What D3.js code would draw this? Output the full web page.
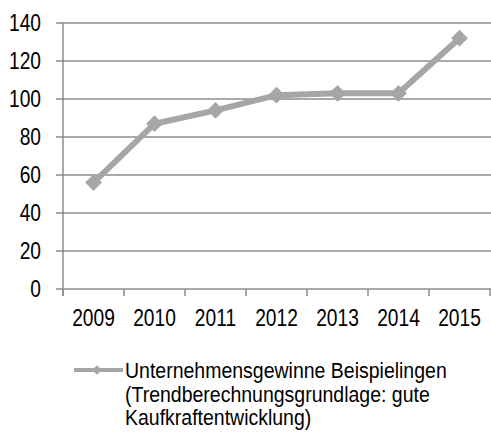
<!DOCTYPE html>
<html><head><meta charset="utf-8">
<script src="https://cdn.jsdelivr.net/npm/d3@7"></script>
<style>body{margin:0;background:#fff}svg{display:block}text{font-family:"Liberation Sans",Arial,sans-serif;fill:#000}</style>
</head><body>
<script>
const years = ["2009","2010","2011","2012","2013","2014","2015"];
const values = [56, 87, 94, 102, 103, 103, 132];
const yTicks = [0,20,40,60,80,100,120,140];
const legendLines = ["Unternehmensgewinne Beispielingen","(Trendberechnungsgrundlage: gute","Kaufkraftentwicklung)"];

const W=491,H=437;
const svg=d3.select("body").append("svg").attr("width",W).attr("height",H);
const x=d3.scaleBand().domain(years).range([63,490]);
const y=d3.scaleLinear().domain([0,140]).range([289,23]);
const grid="#8c8c8c", series="#a6a6a6";
const fs=19.2, sy=1.2;

// gridlines
svg.append("g").selectAll("line").data(yTicks).join("line")
  .attr("x1",56).attr("x2",W).attr("y1",d=>y(d)).attr("y2",d=>y(d))
  .attr("stroke",grid).attr("stroke-width",1.5);
// y axis line
svg.append("line").attr("x1",63).attr("x2",63).attr("y1",y(140)).attr("y2",296)
  .attr("stroke",grid).attr("stroke-width",1.5);
// x ticks at band edges
const edges=years.map(d=>x(d)).concat([x.range()[1]]);
svg.append("g").selectAll("line").data(edges).join("line")
  .attr("x1",d=>d).attr("x2",d=>d).attr("y1",289).attr("y2",296)
  .attr("stroke",grid).attr("stroke-width",1.5);
// y labels
svg.append("g").selectAll("text").data(yTicks).join("text")
  .attr("text-anchor","end").attr("font-size",fs)
  .attr("transform",d=>`translate(41,${y(d)+8}) scale(1,${sy})`).text(d=>d);
// x labels
svg.append("g").selectAll("text").data(years).join("text")
  .attr("text-anchor","middle").attr("font-size",fs)
  .attr("transform",d=>`translate(${x(d)+x.bandwidth()/2},326) scale(1,${sy})`).text(d=>d);

// series line
const pts=years.map((d,i)=>[x(d)+x.bandwidth()/2,y(values[i])]);
svg.append("path").attr("d",d3.line()(pts)).attr("fill","none")
  .attr("stroke",series).attr("stroke-width",6).attr("stroke-linejoin","miter");
const diamond=d3.symbol().type(d3.symbolDiamond2).size(180);
svg.append("g").selectAll("path").data(pts).join("path")
  .attr("d",diamond).attr("transform",d=>`translate(${d[0]},${d[1]})`).attr("fill",series);

// legend
svg.append("line").attr("x1",74).attr("x2",123).attr("y1",370).attr("y2",370)
  .attr("stroke",series).attr("stroke-width",4);
svg.append("path").attr("d",d3.symbol().type(d3.symbolDiamond2).size(60))
  .attr("transform","translate(97,370)").attr("fill",series);
svg.append("g").selectAll("text").data(legendLines).join("text")
  .attr("font-size",19.5)
  .attr("transform",(d,i)=>`translate(125,${378+i*23.5}) scale(1,1.12)`).text(d=>d);
</script>
</body></html>
